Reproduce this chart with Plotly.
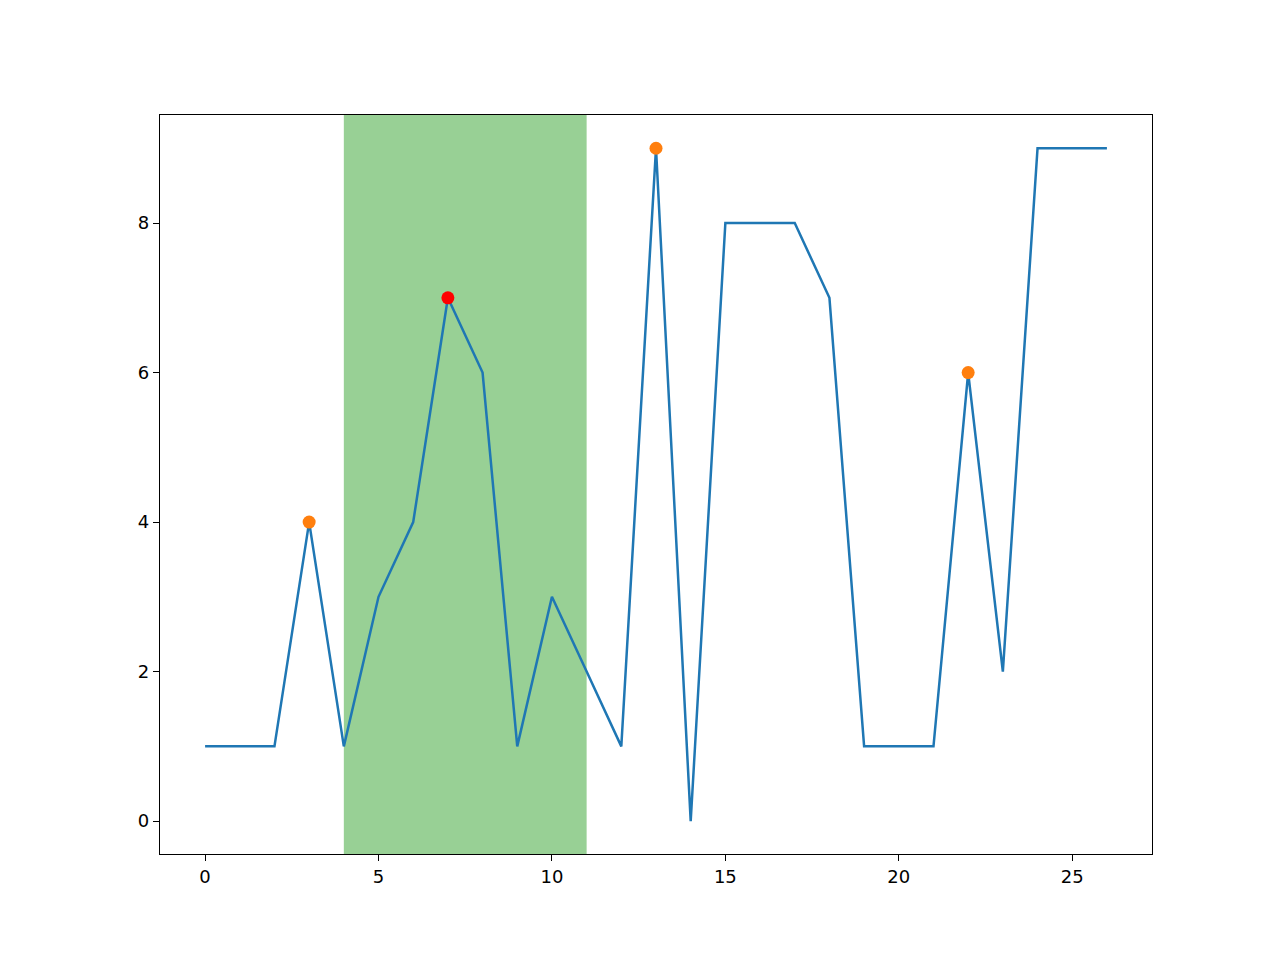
import plotly.graph_objects as go

x = list(range(27))
y = [1,1,1,4,1,3,4,7,6,1,3,2,1,9,0,8,8,8,7,1,1,1,6,2,9,9,9]
peaks_orange = [3, 13, 22]
peak_red = [7]
span = [4, 11]

fig = go.Figure()
fig.add_vrect(x0=span[0], x1=span[1], fillcolor="#98d095", opacity=1, line_width=0, layer="below")
fig.add_trace(go.Scatter(x=x, y=y, mode="lines", line=dict(color="#1f77b4", width=2.5)))
fig.add_trace(go.Scatter(x=peaks_orange, y=[y[i] for i in peaks_orange], mode="markers",
                         marker=dict(color="#ff7f0e", size=13)))
fig.add_trace(go.Scatter(x=peak_red, y=[y[i] for i in peak_red], mode="markers",
                         marker=dict(color="red", size=13)))
axis = dict(showgrid=False, zeroline=False, showline=True, mirror=True, linecolor="black",
            linewidth=1.3, ticks="outside", tickcolor="black", ticklen=6,
            tickfont=dict(family="DejaVu Sans", size=18, color="black"))
fig.update_layout(width=1280, height=960, showlegend=False, plot_bgcolor="white", paper_bgcolor="white",
                  margin=dict(l=152, r=136, t=107, b=114),
                  xaxis=dict(range=[-1.3, 27.3], tickvals=[0,5,10,15,20,25], **axis),
                  yaxis=dict(range=[-0.44, 9.445], tickvals=[0,2,4,6,8], **axis))
fig.write_html("out.html")
